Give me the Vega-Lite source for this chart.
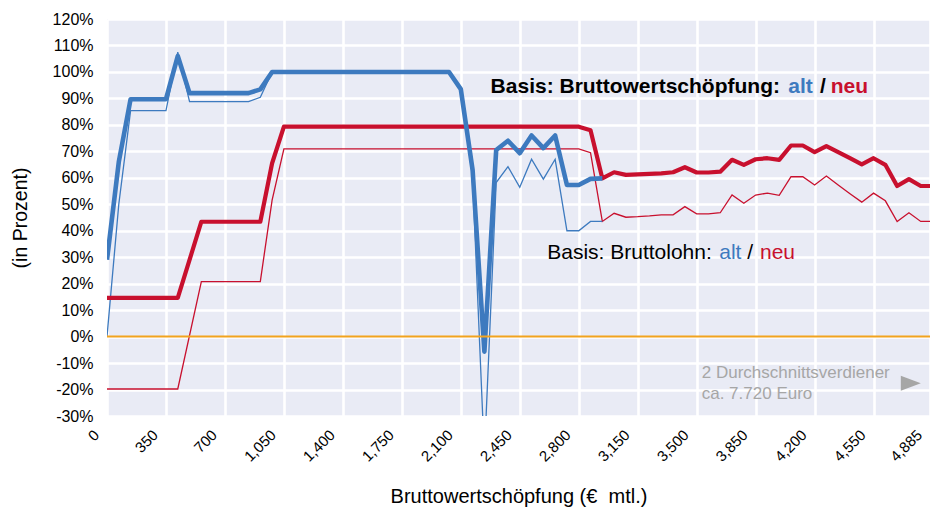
{
  "$schema": "https://vega.github.io/schema/vega-lite/v6.json",
  "width": 823,
  "height": 397,
  "autosize": {"type": "none"},
  "padding": {"left": 107, "top": 19, "right": 0, "bottom": 96},
  "background": "white",
  "config": {
    "view": {"fill": "#E9EBF5", "stroke": null},
    "font": "Liberation Sans",
    "axis": {"gridColor": "white", "gridWidth": 2.6, "gridOpacity": 1, "domain": false, "ticks": false, "labelColor": "black", "titleColor": "black", "titleFontWeight": "normal"}
  },
  "resolve": {"axis": {"x": "independent", "y": "independent"}, "scale": {"x": "shared", "y": "shared"}},
  "datasets": {
    "bws_alt": [
      {"x": 0, "v": 29}, {"x": 70, "v": 66}, {"x": 140, "v": 89.7}, {"x": 350, "v": 89.7}, {"x": 420, "v": 106},
      {"x": 490, "v": 92}, {"x": 840, "v": 92}, {"x": 910, "v": 93.4}, {"x": 980, "v": 100}, {"x": 2030, "v": 100},
      {"x": 2100, "v": 93.5}, {"x": 2170, "v": 63}, {"x": 2240, "v": -5.7}, {"x": 2310, "v": 70.5}, {"x": 2380, "v": 74},
      {"x": 2450, "v": 69.3}, {"x": 2520, "v": 76}, {"x": 2590, "v": 71.2}, {"x": 2660, "v": 76}, {"x": 2730, "v": 57.3},
      {"x": 2800, "v": 57.3}, {"x": 2870, "v": 59.6}, {"x": 2940, "v": 59.8}
    ],
    "bl_alt": [
      {"x": 0, "v": 0}, {"x": 70, "v": 50}, {"x": 140, "v": 85.4}, {"x": 350, "v": 85.4}, {"x": 420, "v": 107.5},
      {"x": 490, "v": 88.8}, {"x": 840, "v": 88.8}, {"x": 910, "v": 90.4}, {"x": 980, "v": 100}, {"x": 2030, "v": 100},
      {"x": 2100, "v": 93}, {"x": 2170, "v": 60}, {"x": 2240, "v": -45}, {"x": 2310, "v": 58.2}, {"x": 2380, "v": 64.2},
      {"x": 2450, "v": 56.4}, {"x": 2520, "v": 67}, {"x": 2590, "v": 59.5}, {"x": 2660, "v": 67}, {"x": 2730, "v": 40},
      {"x": 2800, "v": 40}, {"x": 2870, "v": 43.5}, {"x": 2940, "v": 43.5}
    ],
    "bws_neu": [
      {"x": 0, "v": 14.6}, {"x": 420, "v": 14.6}, {"x": 560, "v": 43.4}, {"x": 910, "v": 43.4}, {"x": 980, "v": 65.5},
      {"x": 1050, "v": 79.3}, {"x": 2800, "v": 79.3}, {"x": 2870, "v": 78}, {"x": 2940, "v": 59.8}, {"x": 3010, "v": 62.1},
      {"x": 3080, "v": 61.1}, {"x": 3150, "v": 61.3}, {"x": 3220, "v": 61.5}, {"x": 3290, "v": 61.7}, {"x": 3360, "v": 62.1},
      {"x": 3430, "v": 64}, {"x": 3500, "v": 62}, {"x": 3570, "v": 62}, {"x": 3640, "v": 62.3}, {"x": 3710, "v": 66.8},
      {"x": 3780, "v": 64.9}, {"x": 3850, "v": 67}, {"x": 3920, "v": 67.4}, {"x": 3990, "v": 66.8}, {"x": 4060, "v": 72.2},
      {"x": 4130, "v": 72.2}, {"x": 4200, "v": 69.7}, {"x": 4270, "v": 72}, {"x": 4340, "v": 69.7}, {"x": 4410, "v": 67.4},
      {"x": 4480, "v": 65.1}, {"x": 4550, "v": 67.4}, {"x": 4620, "v": 64.9}, {"x": 4690, "v": 56.9}, {"x": 4760, "v": 59.5},
      {"x": 4830, "v": 56.9}, {"x": 4885, "v": 56.9}
    ],
    "bl_neu": [
      {"x": 0, "v": -19.8}, {"x": 420, "v": -19.8}, {"x": 560, "v": 20.8}, {"x": 910, "v": 20.8}, {"x": 980, "v": 51.6},
      {"x": 1050, "v": 70.9}, {"x": 2800, "v": 70.9}, {"x": 2870, "v": 69.5}, {"x": 2940, "v": 43.5}, {"x": 3010, "v": 46.6},
      {"x": 3080, "v": 45.1}, {"x": 3150, "v": 45.3}, {"x": 3220, "v": 45.6}, {"x": 3290, "v": 46}, {"x": 3360, "v": 46},
      {"x": 3430, "v": 49.1}, {"x": 3500, "v": 46.4}, {"x": 3570, "v": 46.4}, {"x": 3640, "v": 46.8}, {"x": 3710, "v": 53.5},
      {"x": 3780, "v": 50.4}, {"x": 3850, "v": 53.5}, {"x": 3920, "v": 54.2}, {"x": 3990, "v": 53.4}, {"x": 4060, "v": 60.4},
      {"x": 4130, "v": 60.4}, {"x": 4200, "v": 57.3}, {"x": 4270, "v": 60.7}, {"x": 4340, "v": 57.3}, {"x": 4410, "v": 54},
      {"x": 4480, "v": 50.8}, {"x": 4550, "v": 54.2}, {"x": 4620, "v": 51.3}, {"x": 4690, "v": 43.5}, {"x": 4760, "v": 46.8},
      {"x": 4830, "v": 43.5}, {"x": 4885, "v": 43.5}
    ],
    "one": [{"k": 1}]
  },
  "layer": [
    {
      "encoding": {
        "x": {
          "field": "x", "type": "quantitative",
          "scale": {"domain": [0, 4885], "nice": false, "zero": false},
          "axis": {
            "values": [0, 350, 700, 1050, 1400, 1750, 2100, 2450, 2800, 3150, 3500, 3850, 4200, 4550, 4885],
            "labelExpr": "format(datum.value, ',')",
            "labelAngle": -45, "labelAlign": "right", "labelBaseline": "middle",
            "labelFontSize": 15, "labelPadding": 16, "labelOffset": -11, "labelOverlap": false, "labelBound": false, "labelFlush": false,
            "title": "Bruttowertschöpfung (€\u00a0 mtl.)", "titleFontSize": 20, "titlePadding": 22
          }
        },
        "y": {
          "field": "v", "type": "quantitative",
          "scale": {"domain": [-30, 120], "nice": false, "zero": false},
          "axis": {
            "values": [-30, -20, -10, 0, 10, 20, 30, 40, 50, 60, 70, 80, 90, 100, 110, 120],
            "labelExpr": "datum.value + '%'",
            "labelFontSize": 16, "labelPadding": 14, "labelOverlap": false,
            "title": "(in Prozent)", "titleFontSize": 19.5, "titlePadding": 22
          }
        }
      },
      "layer": [
        {"data": {"name": "bl_neu"}, "mark": {"type": "line", "color": "#C8102E", "strokeWidth": 1.3, "clip": true}},
        {"data": {"name": "bl_alt"}, "mark": {"type": "line", "color": "#3D7ABF", "strokeWidth": 1.3, "clip": true}},
        {"data": {"name": "bws_neu"}, "mark": {"type": "line", "color": "#C8102E", "strokeWidth": 4.2, "clip": true, "strokeJoin": "round"}},
        {"data": {"name": "bws_alt"}, "mark": {"type": "line", "color": "#3D7ABF", "strokeWidth": 4.6, "clip": true, "strokeJoin": "round"}}
      ]
    },
    {"data": {"name": "one"}, "mark": {"type": "rule", "color": "#F2A31E", "strokeWidth": 2}, "encoding": {"y": {"datum": 0, "type": "quantitative", "axis": null}}},
    {"data": {"name": "one"}, "mark": {"type": "text", "text": "Basis: Bruttowertschöpfung:", "align": "left", "baseline": "middle", "fontSize": 21, "fontWeight": "bold", "color": "black"}, "encoding": {"x": {"datum": 2277, "type": "quantitative", "axis": null}, "y": {"datum": 94.4, "type": "quantitative", "axis": null}}},
    {"data": {"name": "one"}, "mark": {"type": "text", "text": "alt", "align": "left", "baseline": "middle", "fontSize": 21, "fontWeight": "bold", "color": "#3D7ABF"}, "encoding": {"x": {"datum": 4044, "type": "quantitative", "axis": null}, "y": {"datum": 94.4, "type": "quantitative", "axis": null}}},
    {"data": {"name": "one"}, "mark": {"type": "text", "text": "/", "align": "left", "baseline": "middle", "fontSize": 21, "fontWeight": "bold", "color": "black"}, "encoding": {"x": {"datum": 4232, "type": "quantitative", "axis": null}, "y": {"datum": 94.4, "type": "quantitative", "axis": null}}},
    {"data": {"name": "one"}, "mark": {"type": "text", "text": "neu", "align": "left", "baseline": "middle", "fontSize": 21, "fontWeight": "bold", "color": "#C8102E"}, "encoding": {"x": {"datum": 4296, "type": "quantitative", "axis": null}, "y": {"datum": 94.4, "type": "quantitative", "axis": null}}},
    {"data": {"name": "one"}, "mark": {"type": "text", "text": "Basis: Bruttolohn:", "align": "left", "baseline": "middle", "fontSize": 21, "color": "black"}, "encoding": {"x": {"datum": 2613, "type": "quantitative", "axis": null}, "y": {"datum": 31.5, "type": "quantitative", "axis": null}}},
    {"data": {"name": "one"}, "mark": {"type": "text", "text": "alt", "align": "left", "baseline": "middle", "fontSize": 21, "color": "#3D7ABF"}, "encoding": {"x": {"datum": 3634, "type": "quantitative", "axis": null}, "y": {"datum": 31.5, "type": "quantitative", "axis": null}}},
    {"data": {"name": "one"}, "mark": {"type": "text", "text": "/", "align": "left", "baseline": "middle", "fontSize": 21, "color": "black"}, "encoding": {"x": {"datum": 3800, "type": "quantitative", "axis": null}, "y": {"datum": 31.5, "type": "quantitative", "axis": null}}},
    {"data": {"name": "one"}, "mark": {"type": "text", "text": "neu", "align": "left", "baseline": "middle", "fontSize": 21, "color": "#C8102E"}, "encoding": {"x": {"datum": 3876, "type": "quantitative", "axis": null}, "y": {"datum": 31.5, "type": "quantitative", "axis": null}}},
    {"data": {"name": "one"}, "mark": {"type": "text", "text": "2 Durchschnittsverdiener", "align": "left", "baseline": "middle", "fontSize": 17, "color": "#A6A6A6"}, "encoding": {"x": {"datum": 3530, "type": "quantitative", "axis": null}, "y": {"datum": -13.8, "type": "quantitative", "axis": null}}},
    {"data": {"name": "one"}, "mark": {"type": "text", "text": "ca. 7.720 Euro", "align": "left", "baseline": "middle", "fontSize": 17, "color": "#A6A6A6"}, "encoding": {"x": {"datum": 3530, "type": "quantitative", "axis": null}, "y": {"datum": -21.6, "type": "quantitative", "axis": null}}},
    {"data": {"name": "one"}, "mark": {"type": "point", "shape": "M-1,-0.75L1,0L-1,0.75Z", "size": 400, "filled": true, "color": "#A6A6A6", "opacity": 1}, "encoding": {"x": {"datum": 4771, "type": "quantitative", "axis": null}, "y": {"datum": -17.6, "type": "quantitative", "axis": null}}}
  ]
}
